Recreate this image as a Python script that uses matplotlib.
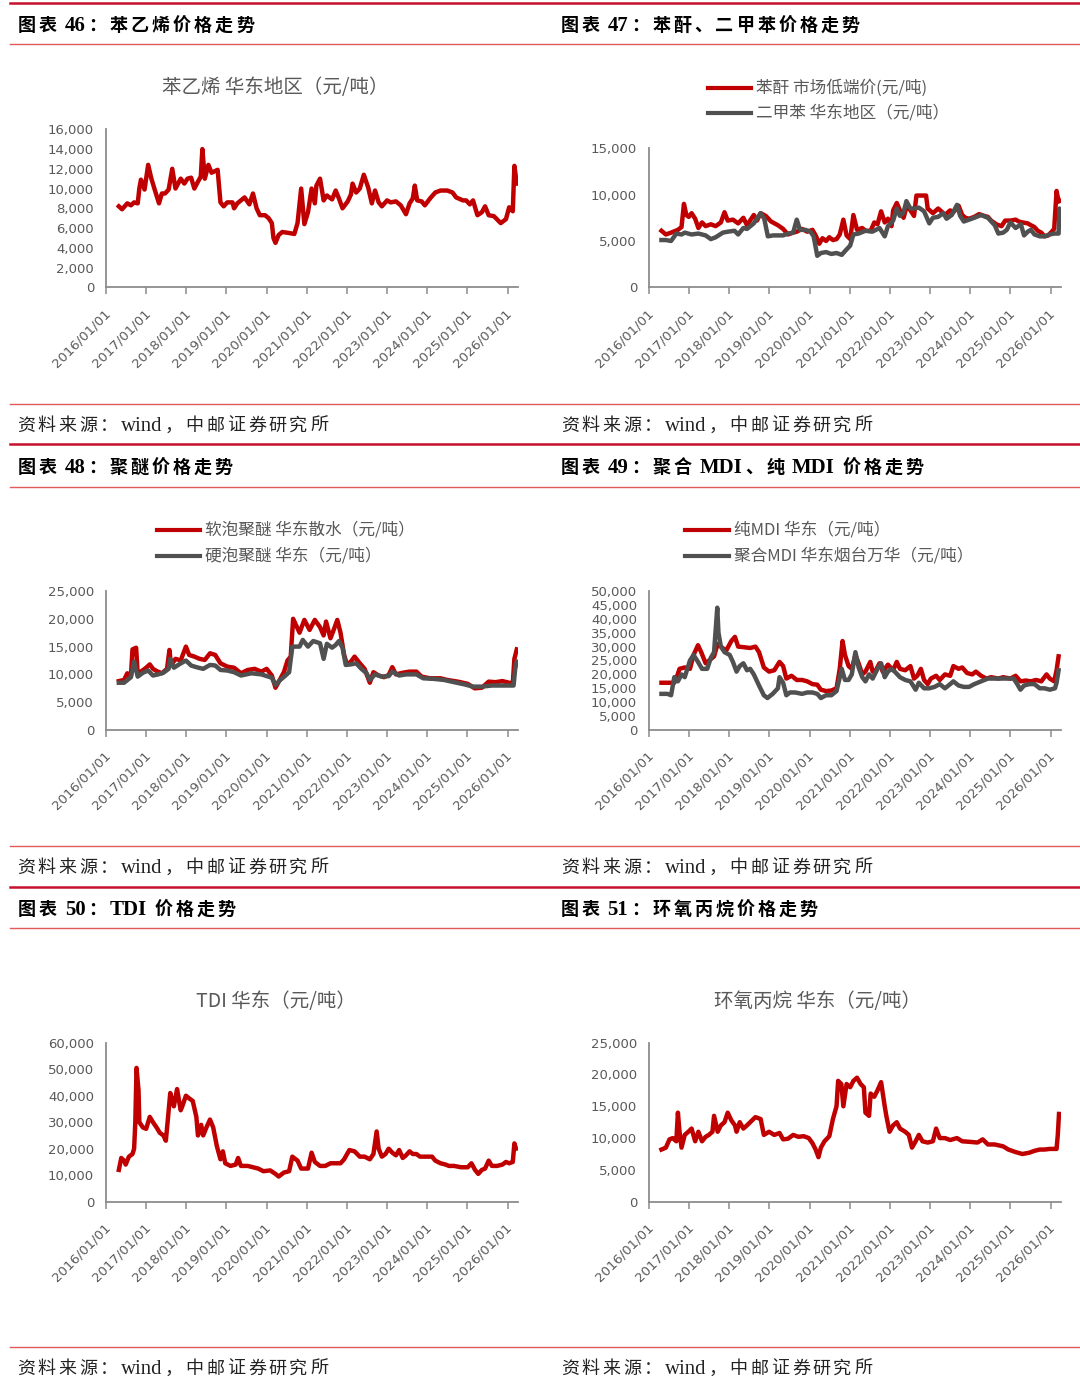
import matplotlib
matplotlib.use("Agg")
import matplotlib.pyplot as plt
from matplotlib.lines import Line2D
from matplotlib.ticker import FuncFormatter
import matplotlib.transforms as mtransforms

# ---- data: decimal years, yuan / ton ----
STYRENE_X = [
    2016.32, 2016.40, 2016.53, 2016.62, 2016.70, 2016.79, 2016.83, 2016.87, 2016.96, 2017.05,
    2017.13, 2017.22, 2017.32, 2017.39, 2017.47, 2017.56, 2017.65, 2017.73, 2017.86, 2017.95,
    2018.03, 2018.12, 2018.20, 2018.29, 2018.36, 2018.40, 2018.46, 2018.55, 2018.63, 2018.78,
    2018.85, 2018.93, 2019.02, 2019.15, 2019.19, 2019.27, 2019.45, 2019.57, 2019.66, 2019.75,
    2019.83, 2019.96, 2020.05, 2020.13, 2020.17, 2020.22, 2020.30, 2020.39, 2020.56, 2020.69,
    2020.77, 2020.86, 2020.94, 2021.03, 2021.12, 2021.20, 2021.24, 2021.33, 2021.42, 2021.50,
    2021.63, 2021.72, 2021.80, 2021.89, 2022.02, 2022.10, 2022.14, 2022.23, 2022.32, 2022.42,
    2022.53, 2022.62, 2022.70, 2022.79, 2022.87, 2023.00, 2023.09, 2023.22, 2023.34, 2023.47,
    2023.56, 2023.64, 2023.69, 2023.75, 2023.86, 2023.94, 2024.07, 2024.20, 2024.33, 2024.50,
    2024.63, 2024.72, 2024.89, 2024.97, 2025.06, 2025.14, 2025.25, 2025.36, 2025.44, 2025.53,
    2025.66, 2025.83, 2025.96, 2026.04, 2026.13, 2026.17, 2026.23]
STYRENE_Y = [
    8200, 7900, 8500, 8300, 8600, 8500, 10000, 10900, 9900, 12400,
    11000, 9800, 8500, 9500, 9500, 9900, 12000, 10000, 11000, 10500,
    11000, 11100, 10000, 10700, 11200, 14000, 11000, 12400, 11600, 11900,
    8600, 8200, 8600, 8600, 8000, 8500, 9100, 8400, 9500, 8000,
    7300, 7300, 7000, 6500, 5000, 4500, 5300, 5600, 5500, 5400,
    6500, 10000, 6400, 7600, 10000, 8500, 10300, 11000, 8800, 9300,
    8900, 9800, 9000, 8000, 8700, 9400, 10500, 9600, 10000, 11400,
    10100, 8500, 9800, 8600, 8200, 8800, 8600, 8700, 8300, 7400,
    8500, 9000, 10300, 8800, 8700, 8300, 9000, 9600, 9800, 9800,
    9600, 9100, 8800, 8800, 8400, 8800, 7300, 7600, 8200, 7300,
    7200, 6500, 6900, 8100, 7700, 12300, 10500]

PA_X = [
    2016.31, 2016.42, 2016.55, 2016.72, 2016.81, 2016.87, 2016.93, 2016.99, 2017.06, 2017.15,
    2017.23, 2017.32, 2017.41, 2017.54, 2017.66, 2017.79, 2017.88, 2017.96, 2018.09, 2018.22,
    2018.35, 2018.44, 2018.61, 2018.69, 2018.78, 2018.91, 2019.04, 2019.21, 2019.34, 2019.46,
    2019.59, 2019.68, 2019.81, 2019.94, 2020.07, 2020.15, 2020.24, 2020.32, 2020.41, 2020.49,
    2020.58, 2020.67, 2020.75, 2020.84, 2020.92, 2021.01, 2021.09, 2021.18, 2021.31, 2021.39,
    2021.52, 2021.61, 2021.69, 2021.78, 2021.87, 2021.95, 2022.04, 2022.08, 2022.17, 2022.25,
    2022.34, 2022.42, 2022.51, 2022.60, 2022.66, 2022.90, 2022.94, 2023.07, 2023.20, 2023.28,
    2023.37, 2023.50, 2023.58, 2023.71, 2023.80, 2023.88, 2023.97, 2024.10, 2024.22, 2024.35,
    2024.44, 2024.52, 2024.65, 2024.78, 2024.87, 2025.00, 2025.13, 2025.21, 2025.30, 2025.43,
    2025.51, 2025.60, 2025.68, 2025.77, 2025.85, 2025.94, 2026.03, 2026.09, 2026.15, 2026.18,
    2026.22]
PA_Y = [
    6100, 5700, 5900, 6200, 6500, 9000, 7800, 7600, 8000, 7400,
    6400, 7000, 6600, 6800, 6600, 7000, 8100, 7200, 7300, 6900,
    7500, 6700, 7800, 7200, 8000, 7700, 7100, 6700, 6300, 5700,
    5900, 6000, 6300, 6000, 6200, 5600, 4700, 5300, 5000, 5400,
    5100, 5200, 5700, 7300, 5600, 5200, 7800, 6200, 6400, 6100,
    6100, 7000, 6800, 8200, 7000, 7400, 6600, 8300, 9100, 8300,
    7500, 8800, 8300, 7700, 9900, 9900, 8500, 8000, 8500, 8200,
    7800, 8300, 8100, 8800, 7800, 7500, 7400, 7600, 7900, 7700,
    7600, 7200, 6800, 6600, 7200, 7200, 7300, 7100, 7000, 6900,
    6700, 6500, 6100, 5900, 5500, 5600, 6000, 6300, 10400, 9700,
    9300]

XYLENE_X = [
    2016.31, 2016.42, 2016.55, 2016.68, 2016.81, 2016.89, 2017.06, 2017.23, 2017.41, 2017.54,
    2017.66, 2017.84, 2017.96, 2018.13, 2018.22, 2018.35, 2018.44, 2018.61, 2018.78, 2018.87,
    2018.96, 2019.09, 2019.21, 2019.34, 2019.46, 2019.59, 2019.68, 2019.76, 2019.89, 2020.02,
    2020.10, 2020.19, 2020.28, 2020.41, 2020.54, 2020.67, 2020.80, 2020.88, 2021.01, 2021.09,
    2021.22, 2021.39, 2021.56, 2021.74, 2021.87, 2021.95, 2022.08, 2022.17, 2022.25, 2022.34,
    2022.41, 2022.51, 2022.60, 2022.72, 2022.85, 2022.98, 2023.07, 2023.20, 2023.33, 2023.41,
    2023.54, 2023.67, 2023.75, 2023.84, 2023.97, 2024.10, 2024.27, 2024.44, 2024.61, 2024.70,
    2024.82, 2024.91, 2025.00, 2025.13, 2025.26, 2025.34, 2025.43, 2025.51, 2025.60, 2025.73,
    2025.85, 2025.98, 2026.09, 2026.20, 2026.22, 2026.24]
XYLENE_Y = [
    5100, 5100, 5000, 5800, 5700, 5900, 5700, 5800, 5600, 5200,
    5400, 5900, 6000, 6100, 5700, 6400, 6300, 6900, 8000, 7400,
    5500, 5600, 5600, 5600, 5800, 5900, 7300, 6200, 6200, 6000,
    5500, 3400, 3700, 3800, 3600, 3700, 3500, 3900, 4500, 5700,
    5800, 6100, 6000, 6400, 5500, 6600, 7200, 8500, 7700, 8100,
    9300, 8500, 8500, 8600, 8200, 6900, 7500, 7600, 8000, 7400,
    7800, 8900, 7700, 7100, 7300, 7500, 7800, 7500, 6700, 5800,
    5900, 6200, 7000, 6400, 6800, 5600, 6000, 6200, 5700, 5500,
    5500, 5700, 5800, 5800, 8500, 7800]

SOFT_PPG_X = [
    2016.32, 2016.45, 2016.53, 2016.62, 2016.66, 2016.75, 2016.79, 2016.87, 2017.00, 2017.09,
    2017.17, 2017.26, 2017.39, 2017.52, 2017.58, 2017.62, 2017.73, 2017.86, 2017.99, 2018.07,
    2018.20, 2018.33, 2018.46, 2018.59, 2018.72, 2018.85, 2019.02, 2019.19, 2019.36, 2019.53,
    2019.70, 2019.87, 2020.00, 2020.13, 2020.22, 2020.34, 2020.43, 2020.52, 2020.60, 2020.66,
    2020.82, 2020.94, 2021.07, 2021.20, 2021.33, 2021.42, 2021.48, 2021.59, 2021.67, 2021.76,
    2021.84, 2021.93, 2022.00, 2022.10, 2022.19, 2022.32, 2022.44, 2022.57, 2022.66, 2022.79,
    2022.92, 2023.04, 2023.13, 2023.22, 2023.39, 2023.56, 2023.73, 2023.86, 2024.07, 2024.33,
    2024.50, 2024.76, 2025.01, 2025.18, 2025.36, 2025.53, 2025.70, 2025.87, 2026.04, 2026.13,
    2026.17, 2026.23]
SOFT_PPG_Y = [
    8800, 9000, 10200, 9700, 14500, 14800, 10000, 10500, 11200, 11800,
    11000, 10600, 10200, 11000, 14400, 11600, 12800, 12500, 15000, 13500,
    13200, 12800, 12600, 13800, 13500, 12000, 11400, 11200, 10200, 10800,
    11000, 10500, 11000, 9800, 7600, 9200, 10400, 12500, 13200, 20000,
    17500, 19800, 18000, 19800, 18500, 17000, 19500, 16500, 18000, 19800,
    17500, 13500, 11800, 12300, 13200, 12000, 11000, 8500, 10400, 9800,
    9500, 9900, 11300, 10000, 10300, 10500, 10500, 9600, 9300, 9300,
    9000, 8700, 8300, 7500, 7600, 8700, 8600, 8800, 8500, 8400,
    12800, 14500]

RIGID_PPG_X = [
    2016.32, 2016.45, 2016.62, 2016.70, 2016.79, 2016.92, 2017.05, 2017.17, 2017.30, 2017.43,
    2017.56, 2017.60, 2017.69, 2017.82, 2017.99, 2018.12, 2018.25, 2018.42, 2018.59, 2018.72,
    2018.85, 2019.02, 2019.19, 2019.36, 2019.62, 2019.87, 2020.13, 2020.22, 2020.34, 2020.47,
    2020.56, 2020.64, 2020.82, 2020.90, 2021.03, 2021.16, 2021.33, 2021.42, 2021.50, 2021.63,
    2021.72, 2021.80, 2021.89, 2021.97, 2022.10, 2022.23, 2022.36, 2022.49, 2022.57, 2022.70,
    2022.87, 2023.04, 2023.13, 2023.30, 2023.47, 2023.73, 2023.90, 2024.16, 2024.42, 2024.67,
    2024.93, 2025.14, 2025.36, 2025.61, 2025.87, 2026.09, 2026.15, 2026.19, 2026.23]
RIGID_PPG_Y = [
    8500, 8500, 9500, 12300, 9600, 10300, 10700, 9800, 10000, 10300,
    11000, 12800, 11200, 11800, 12500, 11600, 11300, 11000, 11700, 11600,
    10800, 10700, 10400, 9800, 10200, 10000, 9400, 8100, 9000, 9800,
    10400, 15000, 15000, 16200, 15000, 16000, 15600, 12800, 15500, 14800,
    15300, 16000, 14800, 11700, 11800, 12000, 11000, 10200, 9000, 10000,
    9600, 9700, 10500, 9800, 10000, 10000, 9300, 9200, 9000, 8600,
    8200, 7800, 7800, 8000, 8000, 8000, 8000, 11000, 12300]

PURE_MDI_X = [
    2016.31, 2016.63, 2016.68, 2016.76, 2016.89, 2017.02, 2017.11, 2017.22, 2017.30, 2017.41,
    2017.54, 2017.62, 2017.71, 2017.79, 2017.92, 2018.05, 2018.14, 2018.22, 2018.35, 2018.52,
    2018.65, 2018.74, 2018.86, 2018.99, 2019.12, 2019.25, 2019.34, 2019.42, 2019.55, 2019.68,
    2019.81, 2019.94, 2020.07, 2020.19, 2020.28, 2020.41, 2020.54, 2020.67, 2020.75, 2020.82,
    2020.88, 2020.97, 2021.05, 2021.14, 2021.22, 2021.31, 2021.39, 2021.51, 2021.57, 2021.65,
    2021.74, 2021.82, 2021.95, 2022.08, 2022.17, 2022.25, 2022.38, 2022.51, 2022.60, 2022.68,
    2022.77, 2022.85, 2022.94, 2023.02, 2023.15, 2023.24, 2023.37, 2023.50, 2023.58, 2023.71,
    2023.80, 2023.92, 2024.05, 2024.14, 2024.27, 2024.40, 2024.52, 2024.70, 2024.82, 2025.00,
    2025.13, 2025.25, 2025.38, 2025.51, 2025.64, 2025.77, 2025.90, 2025.98, 2026.09, 2026.15,
    2026.20]
PURE_MDI_Y = [
    17000, 17000, 18500, 22000, 22500, 22000, 27000, 30500, 28000, 24000,
    25500, 26500, 31000, 30000, 28500, 32000, 33500, 30000, 29800, 29500,
    30000, 28000, 22500, 21000, 21500, 24500, 23000, 18500, 19500, 18000,
    18000, 17500, 16500, 16300, 14500, 14000, 14200, 15000, 22000, 32000,
    27000, 23000, 22000, 27000, 24000, 20000, 21000, 24500, 21000, 21500,
    24000, 21000, 23500, 21500, 24500, 22000, 21500, 23000, 18500, 19500,
    22000, 18000, 16500, 18500, 19500, 18000, 20000, 19500, 23000, 22000,
    22500, 20500, 20000, 21000, 19500, 18500, 19000, 18500, 19000, 18500,
    19500, 17500, 17800, 17500, 18000, 17500, 20000, 18500, 17500, 21500,
    26500]

POLY_MDI_X = [
    2016.31, 2016.46, 2016.55, 2016.63, 2016.72, 2016.81, 2016.89, 2017.02, 2017.11, 2017.22,
    2017.32, 2017.45, 2017.54, 2017.62, 2017.66, 2017.70, 2017.73, 2017.79, 2017.88, 2018.01,
    2018.09, 2018.18, 2018.26, 2018.35, 2018.44, 2018.52, 2018.61, 2018.74, 2018.86, 2018.95,
    2019.08, 2019.21, 2019.25, 2019.34, 2019.42, 2019.51, 2019.64, 2019.81, 2019.94, 2020.07,
    2020.19, 2020.28, 2020.41, 2020.54, 2020.67, 2020.80, 2020.88, 2020.97, 2021.05, 2021.14,
    2021.22, 2021.31, 2021.39, 2021.48, 2021.57, 2021.69, 2021.78, 2021.87, 2021.95, 2022.04,
    2022.12, 2022.25, 2022.38, 2022.51, 2022.64, 2022.72, 2022.85, 2022.98, 2023.11, 2023.24,
    2023.37, 2023.50, 2023.58, 2023.71, 2023.84, 2023.97, 2024.10, 2024.27, 2024.44, 2024.61,
    2024.78, 2024.95, 2025.08, 2025.17, 2025.25, 2025.34, 2025.47, 2025.60, 2025.73, 2025.85,
    2025.98, 2026.11, 2026.15, 2026.20]
POLY_MDI_Y = [
    13000, 13000, 12500, 19000, 17500, 20000, 19000, 25000, 27000, 24500,
    22000, 22000, 26000, 28000, 36000, 44000, 35000, 30000, 28000, 27000,
    24500, 21000, 23000, 24000, 21500, 22000, 20000, 16000, 12500, 11500,
    13000, 15000, 19000, 17000, 12500, 13500, 13500, 13000, 13500, 13500,
    13000, 11500, 12500, 12500, 14000, 22000, 18000, 18000, 20000, 28000,
    22500, 19000, 17500, 20000, 18500, 22000, 24000, 19000, 21000, 22000,
    21000, 19000, 18000, 17500, 14500, 17000, 15000, 15000, 15500, 16500,
    15000, 16500, 17500, 16000, 15500, 15500, 16500, 17500, 18500, 18500,
    18500, 18500, 18500, 16500, 14500, 16000, 16500, 16500, 15000, 15000,
    14500, 15000, 17000, 21500]

TDI_X = [
    2016.32, 2016.38, 2016.45, 2016.49, 2016.57, 2016.66, 2016.70, 2016.73, 2016.76, 2016.81,
    2016.83, 2016.92, 2017.00, 2017.09, 2017.17, 2017.26, 2017.34, 2017.43, 2017.49, 2017.54,
    2017.60, 2017.65, 2017.69, 2017.77, 2017.82, 2017.86, 2017.90, 2017.99, 2018.07, 2018.16,
    2018.25, 2018.29, 2018.37, 2018.42, 2018.50, 2018.59, 2018.67, 2018.76, 2018.85, 2018.91,
    2018.97, 2019.10, 2019.23, 2019.29, 2019.36, 2019.53, 2019.66, 2019.79, 2019.92, 2020.09,
    2020.22, 2020.30, 2020.43, 2020.56, 2020.64, 2020.77, 2020.86, 2021.03, 2021.12, 2021.20,
    2021.33, 2021.46, 2021.59, 2021.72, 2021.84, 2021.93, 2022.06, 2022.19, 2022.32, 2022.44,
    2022.57, 2022.66, 2022.74, 2022.79, 2022.87, 2022.96, 2023.04, 2023.13, 2023.22, 2023.30,
    2023.39, 2023.47, 2023.56, 2023.64, 2023.73, 2023.82, 2023.99, 2024.12, 2024.20, 2024.33,
    2024.46, 2024.54, 2024.67, 2024.84, 2025.01, 2025.10, 2025.19, 2025.27, 2025.36, 2025.44,
    2025.53, 2025.61, 2025.74, 2025.87, 2025.96, 2026.04, 2026.13, 2026.17, 2026.21]
TDI_Y = [
    12000, 16500, 15500, 14000, 17000, 18000, 20000, 30000, 50500, 42000,
    30000, 28000, 27500, 32000, 30000, 28000, 26000, 25000, 23000, 31000,
    41000, 38000, 36000, 42500, 38000, 34500, 36000, 40000, 39000, 38000,
    32000, 25000, 29000, 25000, 28000, 31000, 28000, 21000, 16000, 19000,
    14500, 13500, 14000, 16500, 13500, 13500, 13000, 12500, 11500, 11800,
    10500, 9500, 11000, 11500, 17000, 15500, 12500, 12500, 18500, 15000,
    13500, 13500, 14500, 14500, 14500, 16000, 19500, 19000, 17000, 17000,
    16000, 18000, 26500, 20000, 17000, 18000, 20000, 18500, 17500, 19500,
    16500, 17500, 19000, 18000, 18000, 17000, 17000, 17000, 15500, 14500,
    14000, 13500, 13500, 13000, 13000, 14500, 12000, 10500, 12000, 12500,
    15500, 13500, 13500, 14000, 15000, 14500, 15000, 22000, 20000]

PO_X = [
    2016.31, 2016.42, 2016.51, 2016.59, 2016.68, 2016.72, 2016.76, 2016.81, 2016.89, 2016.98,
    2017.06, 2017.15, 2017.23, 2017.32, 2017.41, 2017.49, 2017.58, 2017.62, 2017.71, 2017.79,
    2017.88, 2017.96, 2018.05, 2018.14, 2018.18, 2018.26, 2018.35, 2018.44, 2018.52, 2018.65,
    2018.78, 2018.86, 2018.99, 2019.12, 2019.25, 2019.34, 2019.46, 2019.59, 2019.72, 2019.85,
    2019.98, 2020.07, 2020.15, 2020.22, 2020.28, 2020.37, 2020.49, 2020.58, 2020.67, 2020.71,
    2020.79, 2020.84, 2020.92, 2021.01, 2021.09, 2021.18, 2021.27, 2021.35, 2021.39, 2021.48,
    2021.52, 2021.61, 2021.69, 2021.78, 2021.87, 2021.91, 2021.99, 2022.08, 2022.17, 2022.25,
    2022.38, 2022.47, 2022.55, 2022.64, 2022.72, 2022.81, 2022.94, 2023.07, 2023.15, 2023.24,
    2023.37, 2023.50, 2023.67, 2023.80, 2024.01, 2024.18, 2024.31, 2024.44, 2024.61, 2024.82,
    2024.95, 2025.13, 2025.30, 2025.47, 2025.60, 2025.73, 2025.85, 2025.98, 2026.11, 2026.15,
    2026.18, 2026.21]
PO_Y = [
    8200, 8500, 9800, 10000, 9500, 14000, 11000, 8500, 10500, 11000,
    11500, 9500, 11000, 9500, 10200, 10500, 11000, 13500, 11000, 12000,
    12500, 14000, 12800, 12000, 11000, 12500, 11500, 12000, 12500, 13300,
    13000, 10500, 11000, 10500, 10800, 9800, 9900, 10500, 10200, 10300,
    10000, 9200, 8200, 7000, 8500, 9500, 10300, 13000, 15000, 19000,
    18500, 15000, 18500, 18000, 19000, 19500, 18500, 18000, 14000, 13500,
    17000, 16500, 17500, 18800, 15000, 13500, 11000, 12000, 12500, 11500,
    11000, 10500, 8500, 9500, 10500, 9500, 9300, 9500, 11500, 10000,
    10000, 9700, 10000, 9500, 9400, 9300, 9800, 9000, 9000, 8700,
    8200, 7800, 7500, 7700, 8000, 8200, 8200, 8300, 8300, 8300,
    10500, 13800]

YEARS = list(range(2016, 2027))
YEAR_LABELS = [f"{y}/01/01" for y in YEARS]

HEADERS = ["图表 46：苯乙烯价格走势", "图表 47：苯酐、二甲苯价格走势",
           "图表 48：聚醚价格走势", "图表 49：聚合 MDI、纯 MDI 价格走势",
           "图表 50：TDI 价格走势", "图表 51：环氧丙烷价格走势"]
SOURCE = "资料来源：wind，中邮证券研究所"

RED = "#C00000"
GREY = "#505050"
TXT = "#595959"
AXC = "#8C8C8C"

W, H = 1080, 1391
fig = plt.figure(figsize=(W / 100, H / 100), dpi=100)
renderer = fig.canvas.get_renderer()

CJK = ["Noto Sans CJK SC", "DejaVu Sans"]
MIX = ["Liberation Serif", "Noto Sans CJK SC"]


def fy(py):
    return 1 - py / H


def hline(y, color, lw, x0=10, x1=1080):
    fig.add_artist(Line2D([x0 / W, x1 / W], [fy(y), fy(y)], color=color, lw=lw,
                          transform=fig.transFigure))


def is_cjk(ch):
    return ord(ch[0]) > 0x2E80


def spaced(x, y, s, size, weight="normal", gap=3.4, color="black"):
    # CJK chars one by one with Word-like letter spacing, latin runs kept whole
    em = size * 100 / 72
    runs = []
    for ch in s:
        if (runs and ch != " " and not is_cjk(ch)
                and runs[-1] != " " and not is_cjk(runs[-1])):
            runs[-1] += ch
        else:
            runs.append(ch)
    cur = x
    for run in runs:
        if run == " ":
            cur += 0.25 * em
            continue
        fs = size if is_cjk(run) else size * 1.15
        t = fig.text(cur / W, fy(y), run, fontsize=fs, fontweight=weight,
                     family=MIX, ha="left", va="baseline", color=color)
        if is_cjk(run):
            cur += em + gap
        else:
            cur += t.get_window_extent(renderer).width + gap


def panel(left, right, top, bottom, ymax, step):
    ax = fig.add_axes([left / W, fy(bottom), (right - left) / W, (bottom - top) / H])
    ax.set_xlim(2016.0, 2026.26)
    ax.set_ylim(0, ymax)
    ax.set_yticks(range(0, ymax + 1, step))
    ax.yaxis.set_major_formatter(FuncFormatter(lambda v, p: f"{int(v):,}"))
    ax.set_xticks(YEARS)
    ax.set_xticklabels([])
    for s in ["top", "right"]:
        ax.spines[s].set_visible(False)
    for s in ["left", "bottom"]:
        ax.spines[s].set_color(AXC)
        ax.spines[s].set_linewidth(1.3)
    ax.tick_params(axis="x", length=5, width=1.1, color=AXC)
    ax.tick_params(axis="y", length=0, pad=8.6, labelsize=9.5, labelcolor=TXT)
    for lab in ax.get_yticklabels():
        lab.set_family("DejaVu Sans")
    off = mtransforms.ScaledTranslation(7 / 100, -19 / 100, fig.dpi_scale_trans)
    for yr, lab in zip(YEARS, YEAR_LABELS):
        ax.text(yr, 0, lab, transform=ax.get_xaxis_transform() + off, rotation=45,
                ha="right", va="top", fontsize=9.5, color=TXT, family="DejaVu Sans")
    ax.patch.set_alpha(0)
    return ax


def legend(x0, x1, xt, rows, labels, colors):
    for y, lab, c in zip(rows, labels, colors):
        fig.add_artist(Line2D([x0 / W, x1 / W], [fy(y), fy(y)], color=c, lw=3.0,
                              transform=fig.transFigure))
        fig.text(xt / W, fy(y), lab, fontsize=12, color=TXT, family=CJK,
                 ha="left", va="center")


def title(x, y, s):
    fig.text(x / W, fy(y), s, fontsize=14, color=TXT, family=CJK, ha="center", va="center")


LW = 3.2

# ---- frame: rules, headers and sources ----
for top in [3, 444, 886.5]:
    hline(top, "#C8102E", 1.8)
for y in [43.5, 403.5, 486.5, 846, 927.5, 1346.5]:
    hline(y, "#E05A5A", 1.0)

head_base = [31, 473, 915]
src_base = [431, 873, 1374]
for r in range(3):
    spaced(18, head_base[r], HEADERS[2 * r], 13, weight="bold", gap=3.0)
    spaced(561, head_base[r], HEADERS[2 * r + 1], 13, weight="bold", gap=3.0)
    spaced(17, src_base[r], SOURCE, 13, gap=2.7, color="#222222")
    spaced(561, src_base[r], SOURCE, 13, gap=2.7, color="#222222")

# ---- 46 styrene ----
ax = panel(106, 518, 129.3, 287.3, 16000, 2000)
ax.plot(STYRENE_X, STYRENE_Y, color=RED, lw=LW, solid_joinstyle="round")
title(275, 88, "苯乙烯 华东地区（元/吨）")

# ---- 47 phthalic anhydride / xylene ----
ax = panel(649, 1061, 148.3, 287.3, 15000, 5000)
ax.plot(PA_X, PA_Y, color=RED, lw=LW, solid_joinstyle="round")
ax.plot(XYLENE_X, XYLENE_Y, color=GREY, lw=LW, solid_joinstyle="round")
legend(707.7, 750.7, 756, [87.7, 113.3],
       ["苯酐 市场低端价(元/吨)", "二甲苯 华东地区（元/吨）"], [RED, GREY])

# ---- 48 polyether ----
ax = panel(106, 518, 591, 730, 25000, 5000)
ax.plot(SOFT_PPG_X, SOFT_PPG_Y, color=RED, lw=LW, solid_joinstyle="round")
ax.plot(RIGID_PPG_X, RIGID_PPG_Y, color=GREY, lw=LW, solid_joinstyle="round")
legend(156.7, 200.4, 205, [530, 555.7],
       ["软泡聚醚 华东散水（元/吨）", "硬泡聚醚 华东（元/吨）"], [RED, GREY])

# ---- 49 MDI ----
ax = panel(649, 1061, 591, 730, 50000, 5000)
ax.plot(PURE_MDI_X, PURE_MDI_Y, color=RED, lw=LW, solid_joinstyle="round")
ax.plot(POLY_MDI_X, POLY_MDI_Y, color=GREY, lw=LW, solid_joinstyle="round")
legend(684.6, 728.7, 733.5, [530, 556],
       ["纯MDI 华东（元/吨）", "聚合MDI 华东烟台万华（元/吨）"], [RED, GREY])

# ---- 50 TDI ----
ax = panel(106, 518, 1042.7, 1201.7, 60000, 10000)
ax.plot(TDI_X, TDI_Y, color=RED, lw=LW, solid_joinstyle="round")
title(276, 1001.7, "TDI 华东（元/吨）")

# ---- 51 propylene oxide ----
ax = panel(649, 1061, 1042.7, 1201.7, 25000, 5000)
ax.plot(PO_X, PO_Y, color=RED, lw=LW, solid_joinstyle="round")
title(818, 1001.7, "环氧丙烷 华东（元/吨）")

fig.savefig("out.png", dpi=100, facecolor="white")
